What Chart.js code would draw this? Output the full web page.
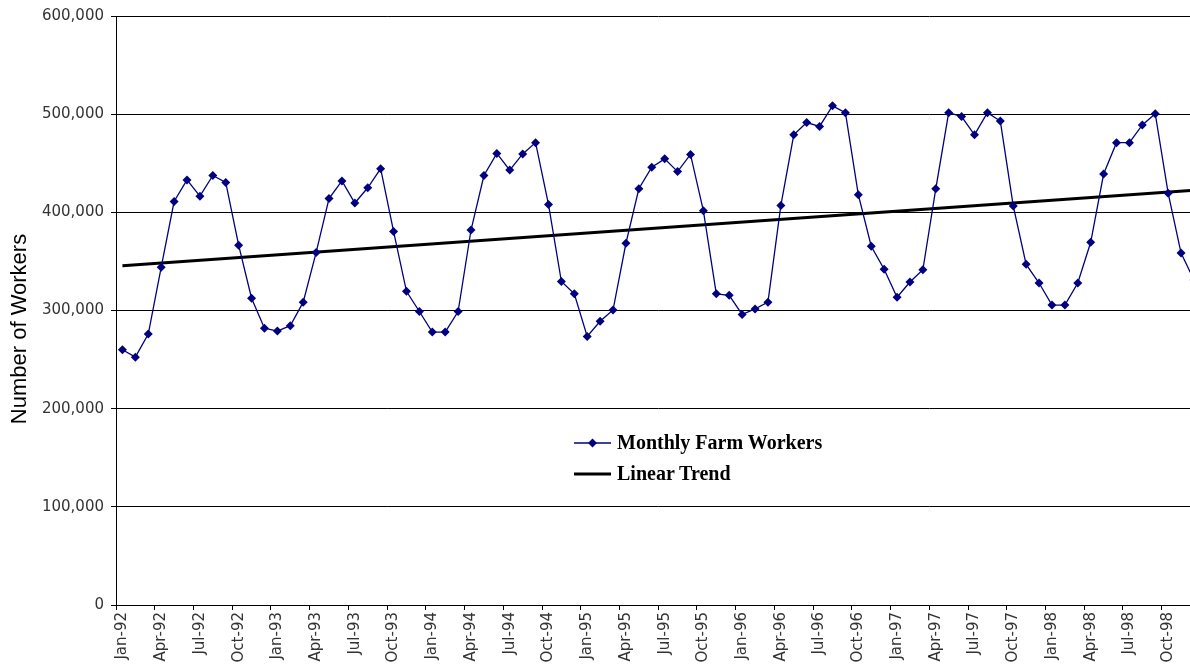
<!DOCTYPE html>
<html>
<head>
<meta charset="utf-8">
<title>Monthly Farm Workers</title>
<script src="https://cdn.jsdelivr.net/npm/chart.js@4.4.1/dist/chart.umd.min.js"></script>
<style>
    html, body { margin: 0; padding: 0; background: #fff; overflow: hidden; }
    #wrap { position: absolute; left: 0; top: 0; width: 1214px; height: 680px; }
    #legend { position: absolute; left: 574px; top: 427px; font: bold 20px "Liberation Serif", "Times New Roman", serif; color: #000; }
    #legend .row { display: flex; align-items: center; height: 31px; }
    #legend svg { margin-right: 6px; }
</style>
</head>
<body>
<div id="wrap"><canvas id="farmChart"></canvas></div>
<div id="legend">
    <div class="row">
        <svg width="37" height="12"><line x1="0" y1="6" x2="37" y2="6" stroke="#000080" stroke-width="1.3"/><polygon points="18.5,1.5 23,6 18.5,10.5 14,6" fill="#000080"/></svg>
        <span>Monthly Farm Workers</span>
    </div>
    <div class="row">
        <svg width="37" height="12"><line x1="0" y1="6" x2="37" y2="6" stroke="#000" stroke-width="3"/></svg>
        <span>Linear Trend</span>
    </div>
</div>
<script>
/* ==========================================================================
   DATA
   ========================================================================== */
const monthLabels = [
    "Jan-92", "Feb-92", "Mar-92", "Apr-92", "May-92", "Jun-92", "Jul-92", "Aug-92", "Sep-92", "Oct-92", "Nov-92", "Dec-92",
    "Jan-93", "Feb-93", "Mar-93", "Apr-93", "May-93", "Jun-93", "Jul-93", "Aug-93", "Sep-93", "Oct-93", "Nov-93", "Dec-93",
    "Jan-94", "Feb-94", "Mar-94", "Apr-94", "May-94", "Jun-94", "Jul-94", "Aug-94", "Sep-94", "Oct-94", "Nov-94", "Dec-94",
    "Jan-95", "Feb-95", "Mar-95", "Apr-95", "May-95", "Jun-95", "Jul-95", "Aug-95", "Sep-95", "Oct-95", "Nov-95", "Dec-95",
    "Jan-96", "Feb-96", "Mar-96", "Apr-96", "May-96", "Jun-96", "Jul-96", "Aug-96", "Sep-96", "Oct-96", "Nov-96", "Dec-96",
    "Jan-97", "Feb-97", "Mar-97", "Apr-97", "May-97", "Jun-97", "Jul-97", "Aug-97", "Sep-97", "Oct-97", "Nov-97", "Dec-97",
    "Jan-98", "Feb-98", "Mar-98", "Apr-98", "May-98", "Jun-98", "Jul-98", "Aug-98", "Sep-98", "Oct-98", "Nov-98", "Dec-98"
];

const farmWorkers = [
    260000, 252500, 276000, 344000, 411000, 433000, 416500, 437500, 430500, 366500, 312500, 282000,
    279000, 284500, 308500, 359000, 414000, 432000, 409500, 425000, 444500, 380500, 319500, 299000,
    278000, 278000, 299000, 382000, 437500, 460000, 443000, 459500, 471000, 408000, 329500, 317000,
    273500, 289000, 300500, 368500, 424000, 446000, 454500, 441500, 459000, 401500, 317000, 315500,
    296000, 301500, 308500, 407000, 479000, 491500, 487500, 508500, 501500, 418000, 365500, 342000,
    313500, 329000, 341500, 424000, 501500, 497500, 479000, 501500, 493000, 406500, 347000, 328000,
    305500, 305500, 328000, 369500, 439000, 471000, 471000, 489000, 500500, 419500, 358500, 331000
];

// trend line end points
const trendLabels = ["Jan-92", "Dec-98"];
const trendValues = [345500, 422500];

const yTicks = [0, 100000, 200000, 300000, 400000, 500000, 600000];

/* ==========================================================================
   CHART
   ========================================================================== */
const yTitlePlugin = {
    id: "yTitle",
    afterDraw(chart) {
        const ctx = chart.ctx;
        ctx.save();
        ctx.translate(20, 329);
        ctx.rotate(-Math.PI / 2);
        ctx.font = '22px "Liberation Sans", Arial, sans-serif';
        ctx.textAlign = "center";
        ctx.textBaseline = "middle";
        ctx.fillStyle = "#000";
        ctx.fillText("Number of Workers", 0, 0);
        ctx.restore();
    }
};

const tickFont = { family: '"DejaVu Sans", sans-serif', size: 15 };

new Chart(document.getElementById("farmChart"), {
    type: "line",
    data: {
        labels: monthLabels,
        datasets: [
            {
                label: "Monthly Farm Workers",
                data: farmWorkers,
                borderColor: "#000080",
                backgroundColor: "#000080",
                borderWidth: 1.3,
                pointStyle: "rectRot",
                pointRadius: 4.5,
                pointHoverRadius: 4.5,
                pointBorderWidth: 0,
                tension: 0
            },
            {
                label: "Linear Trend",
                data: trendLabels.map((l, i) => ({ x: l, y: trendValues[i] })),
                borderColor: "#000",
                borderWidth: 3,
                pointRadius: 0,
                tension: 0
            }
        ]
    },
    options: {
        responsive: true,
        maintainAspectRatio: false,
        animation: false,
        layout: { padding: { top: 16, left: 0, right: 0, bottom: 0 } },
        plugins: {
            legend: { display: false },
            tooltip: { enabled: false }
        },
        scales: {
            x: {
                offset: true,
                afterFit: (scale) => { scale.height = 75; },
                border: { color: "#000", width: 1 },
                grid: {
                    offset: true,
                    drawOnChartArea: false,
                    tickLength: 5,
                    tickColor: (ctx) => (ctx.index % 3 === 0 ? "#000" : "rgba(0,0,0,0)")
                },
                ticks: {
                    autoSkip: false,
                    minRotation: 90,
                    maxRotation: 90,
                    padding: 2,
                    color: "#333",
                    font: tickFont,
                    callback: function (value, index) {
                        return index % 3 === 0 ? monthLabels[index] : "";
                    }
                }
            },
            y: {
                min: 0,
                max: 600000,
                afterFit: (scale) => { scale.width = 116; },
                afterBuildTicks: (scale) => { scale.ticks = yTicks.map(v => ({ value: v })); },
                border: { color: "#000", width: 1 },
                grid: { color: "#000", lineWidth: 1, tickLength: 5, tickColor: "#000" },
                ticks: {
                    padding: 7,
                    color: "#333",
                    font: tickFont,
                    callback: (v) => v.toLocaleString("en-US")
                }
            }
        }
    },
    plugins: [yTitlePlugin]
});
</script>
</body>
</html>
